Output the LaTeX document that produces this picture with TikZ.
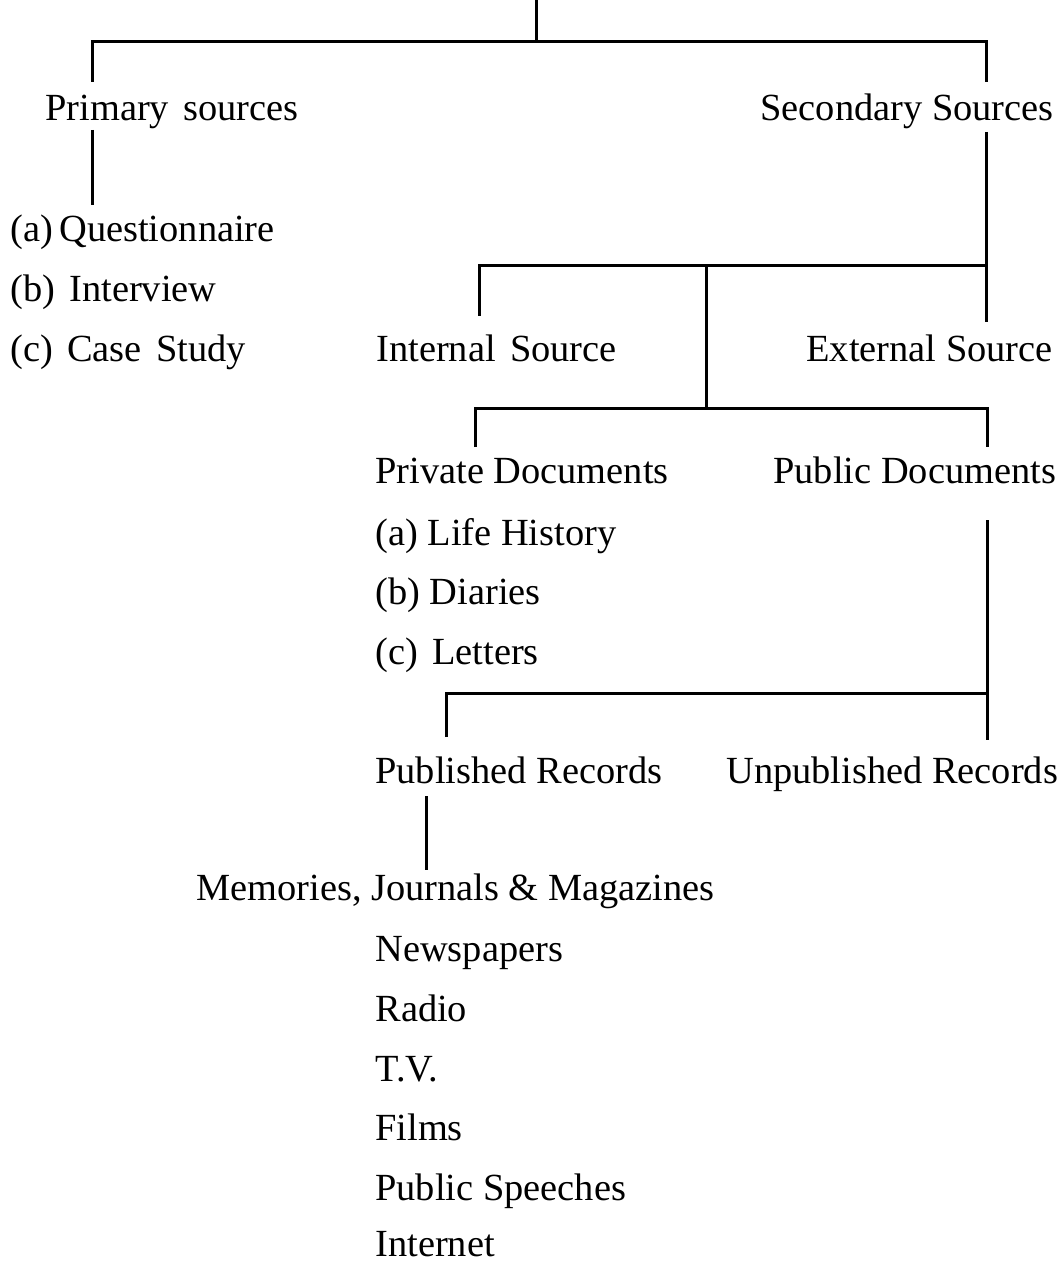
\documentclass[tikz,border=0pt]{standalone}
\usepackage{fontspec}
\setmainfont{Liberation Serif}
\newcommand{\xsp}{\ \hspace{0.12em}}
\begin{document}
\begin{tikzpicture}[x=0.5pt,y=-0.5pt,
  lbl/.style={anchor=base west,inner sep=0pt,font=\fontsize{19.2}{23}\selectfont},
  conn/.style={line width=1.5pt,line cap=butt}]
\useasboundingbox (0,0) rectangle (1061,1262);
% labels
\node[lbl] (prim) at (45,121) {Primary\xsp sources};
\node[lbl] (sec) at (760,121) {Secondary Sources};
\node[lbl] (qa) at (10,242) {(a)\,Questionnaire};
\node[lbl] (qb) at (10,302) {(b)\xsp Interview};
\node[lbl] (qc) at (10,362) {(c)\xsp Case\xsp Study};
\node[lbl] (int) at (376,362) {Internal\xsp Source};
\node[lbl] (ext) at (806,362) {External Source};
\node[lbl] (priv) at (375,483) {Private Documents};
\node[lbl] (pub) at (773,483) {Public Documents};
\node[lbl] (la) at (375,545) {(a) Life History};
\node[lbl] (lb) at (375,604) {(b) Diaries};
\node[lbl] (lc) at (375,664) {(c)\xsp Letters};
\node[lbl] (prec) at (375,783) {Published Records};
\node[lbl] (urec) at (726,783) {Unpublished Records};
\node[lbl] (mem) at (196,900) {Memories, Journals \& Magazines};
\node[lbl] (n1) at (375,961) {Newspapers};
\node[lbl] (n2) at (375,1021) {Radio};
\node[lbl] (n3) at (375,1081) {T.V.};
\node[lbl] (n4) at (375,1140) {Films};
\node[lbl] (n5) at (375,1200) {Public Speeches};
\node[lbl] (n6) at (375,1256) {Internet};
% junction coordinates
\coordinate (top) at (536,0);
\coordinate (j0) at (536,42);
\coordinate (h0l) at (92,42);
\coordinate (h0r) at (986,42);
\coordinate (primtop) at (92,82);
\coordinate (sectop) at (986,82);
\coordinate (primbot) at (92,130);
\coordinate (qtop) at (92,205);
\coordinate (secbot) at (986,132);
\coordinate (j1) at (986,266);
\coordinate (exttop) at (986,322);
\coordinate (h1l) at (479,266);
\coordinate (inttop) at (479,316);
\coordinate (j2) at (706,266);
\coordinate (j3) at (706,408);
\coordinate (h2l) at (475,408);
\coordinate (h2r) at (987,408);
\coordinate (privtop) at (475,447);
\coordinate (pubtop) at (987,447);
\coordinate (pubbot) at (987,520);
\coordinate (j4) at (987,693);
\coordinate (urectop) at (987,740);
\coordinate (h3l) at (446,693);
\coordinate (prectop) at (446,737);
\coordinate (precbot) at (426,796);
\coordinate (memtop) at (426,870);
% connectors
\draw[conn] (top) -- (j0);
\draw[conn] (primtop) -- (h0l) -- (h0r) -- (sectop);
\draw[conn] (primbot) -- (qtop);
\draw[conn] (secbot) -- (exttop);
\draw[conn] (inttop) -- (h1l) -- (j1);
\draw[conn] (j2) -- (j3);
\draw[conn] (privtop) -- (h2l) -- (h2r) -- (pubtop);
\draw[conn] (pubbot) -- (urectop);
\draw[conn] (prectop) -- (h3l) -- (j4);
\draw[conn] (precbot) -- (memtop);
\end{tikzpicture}
\end{document}
